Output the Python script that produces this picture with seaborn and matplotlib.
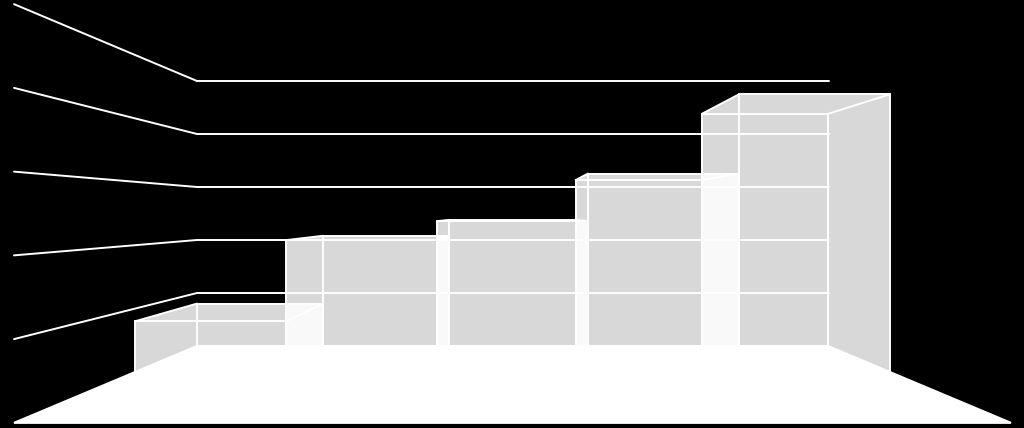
import pandas as pd
import numpy as np
import matplotlib
matplotlib.use("Agg")
import matplotlib.pyplot as plt
import seaborn as sns

# data
positions = [0, 1, 2, 3, 4]
values = [0.8, 2.08, 2.38, 3.13, 4.38]
grid_levels = [1, 2, 3, 4, 5]

# perspective of the 3d box
near = 1.195    # front of the bars
wall = 1.58     # front of the side walls / floor
cx = 2.0
horizon = -2.5
lw = 1.4


def proj(x, v, s):
    return cx + s * (x - cx), horizon * (s - 1) + s * v


def hull(pts):
    pts = sorted(set(pts))
    def half(seq):
        out = []
        for p in seq:
            while len(out) > 1 and (out[-1][0]-out[-2][0])*(p[1]-out[-2][1]) - (out[-1][1]-out[-2][1])*(p[0]-out[-2][0]) <= 0:
                out.pop()
            out.append(p)
        return out[:-1]
    return half(pts) + half(pts[::-1])


sns.set_style("white")
fig = plt.figure(figsize=(10.24, 4.28), dpi=100, facecolor="black")
ax = fig.add_axes([0, 0, 1, 1])

# back face outline of the bars
sns.barplot(x=positions, y=values, native_scale=True, width=1, fill=False, color="white",
            linewidth=lw, errorbar=None, ax=ax, zorder=2, legend=False)

# wireframe edges and gridlines
rows = []
def edge(name, a, b):
    rows.append({"edge": name, "order": 0, "x": a[0], "y": a[1]})
    rows.append({"edge": name, "order": 1, "x": b[0], "y": b[1]})

for p, v in zip(positions, values):
    l, r = p - 0.5, p + 0.5
    # translucent silhouette of each bar
    box = [proj(x, y, s) for x in (l, r) for y in (0, v) for s in (1, near)]
    xs, ys = zip(*hull(box))
    ax.fill(xs, ys, color="white", alpha=0.85, lw=0, zorder=1)
    edge(f"top{p}", proj(l, v, near), proj(r, v, near))
    edge(f"left{p}", proj(l, 0, near), proj(l, v, near))
    edge(f"right{p}", proj(r, 0, near), proj(r, v, near))
    edge(f"sl{p}", proj(l, v, 1), proj(l, v, near))
    edge(f"sr{p}", proj(r, v, 1), proj(r, v, near))

x0, x1 = positions[0] - 0.5, positions[-1] + 0.5
for g in grid_levels:
    edge(f"back{g}", proj(x0, g, 1), proj(x1 + 0.01, g, 1))
    edge(f"wall{g}", proj(x0, g, 1), proj(x0, g, wall))

lines = pd.DataFrame(rows)
sns.lineplot(data=lines, x="x", y="y", units="edge", estimator=None, sort=False,
             color="white", linewidth=lw, ax=ax, zorder=2, legend=False)

# floor goes over everything
floor = [proj(x0, 0, 1), proj(x1, 0, 1), proj(x1, 0, wall), proj(x0, 0, wall)]
fx, fy = zip(*floor)
ax.fill(fx, fy, color="white", lw=1.5, zorder=3)

ax.set_xlim(cx - 512.5 / 126.2, cx + 511.5 / 126.2)
ax.set_ylim(-82 / 53, 346 / 53)
ax.axis("off")

fig.savefig("out.png", dpi=100, facecolor="black")
